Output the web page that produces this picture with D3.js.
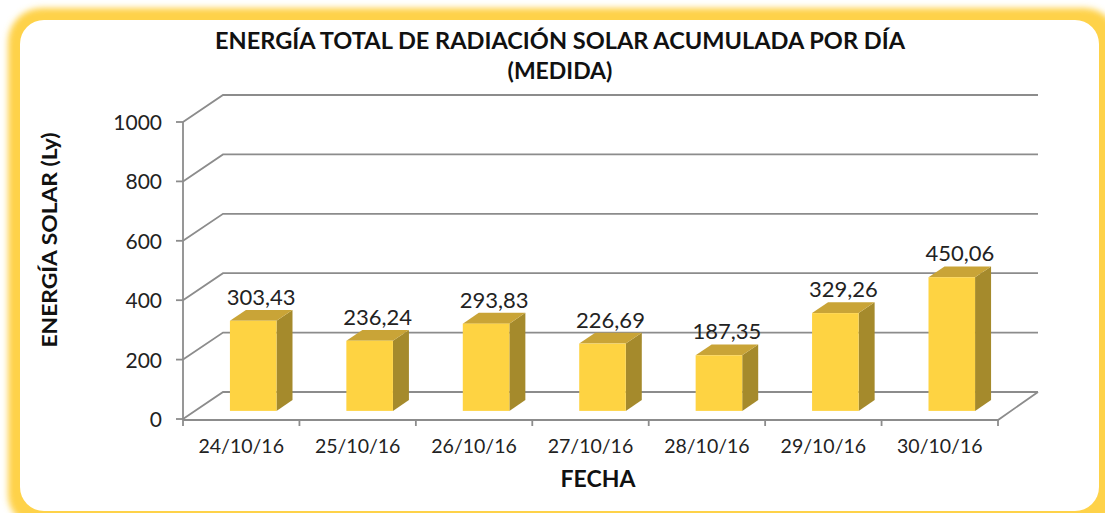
<!DOCTYPE html>
<html lang="es">
<head>
<meta charset="UTF-8">
<title>Energía solar</title>
<script src="https://cdnjs.cloudflare.com/ajax/libs/d3/7.8.5/d3.min.js"></script>
<style>
  * { margin: 0; padding: 0; }
  html, body { background: #fff; }
  svg { display: block; font-family: Lato, "Open Sans", sans-serif; }
</style>
</head>
<body>
<div id="chart"></div>
<script>
// datos
const fechas = ['24/10/16', '25/10/16', '26/10/16', '27/10/16', '28/10/16', '29/10/16', '30/10/16']
const energia = [303.43, 236.24, 293.83, 226.69, 187.35, 329.26, 450.06]
const yTicks = [0, 200, 400, 600, 800, 1000]

const W = 1105, H = 513
const svg = d3.select('#chart').append('svg').attr('width', W).attr('height', H)

// marco amarillo con sombra difusa
const defs = svg.append('defs')
defs.append('filter').attr('id', 'blur').attr('x', '-5%').attr('y', '-5%').attr('width', '110%').attr('height', '110%')
  .append('feGaussianBlur').attr('stdDeviation', 3)
svg.append('rect').attr('x', 8).attr('y', 8).attr('width', 1110).attr('height', 520)
  .attr('rx', 34).attr('fill', '#fed24a').attr('filter', 'url(#blur)')
svg.append('rect').attr('x', 20).attr('y', 20).attr('width', 1079).attr('height', 491)
  .attr('rx', 24).attr('fill', '#fff')

// escalas
const x = d3.scaleBand().domain(fechas).range([183, 998])
const y = d3.scaleLinear().domain([0, 1000]).range([419, 122])
const DX = 40, DY = -27          // profundidad de la pared
const f0 = 0.3, fd = 0.4         // posicion/profundidad de la barra
const bw = x.bandwidth() * 0.4

const grid = svg.append('g').attr('stroke', '#8c8c8c').attr('stroke-width', 1.8).attr('fill', 'none')
yTicks.forEach(v => {
  grid.append('path').attr('d', `M183,${y(v)}L${183 + DX},${y(v) + DY}H${998 + DX}`)
})
// suelo
grid.append('path').attr('d', `M183,${y(0) + 1}H998L${998 + DX},${y(0) + DY}`)
// eje vertical y ticks
grid.append('path').attr('d', `M183,${y(1000)}V${y(0) + 1}`)
yTicks.forEach(v => grid.append('path').attr('d', `M176,${y(v)}H183`))
d3.range(fechas.length + 1).forEach(i => {
  const xx = 183 + i * x.step()
  grid.append('path').attr('d', `M${xx},${y(0) + 1}v6`)
})

// etiquetas eje Y
svg.append('g').selectAll('text').data(yTicks).join('text')
  .attr('x', 162).attr('y', d => y(d) + 8).attr('text-anchor', 'end')
  .attr('font-size', 21).attr('fill', '#222').text(d => d)

// barras 3D
const bars = svg.append('g').selectAll('g').data(fechas).join('g')
bars.each(function (d, i) {
  const g = d3.select(this)
  const x0 = x(d) + x.bandwidth() / 2 - bw / 2 + f0 * DX
  const x1 = x0 + bw
  const yb = y(0) + f0 * DY
  const yt = y(energia[i]) + f0 * DY
  const ox = fd * DX, oy = fd * DY
  g.append('path').attr('fill', '#a58a2c')
    .attr('d', `M${x1},${yb}L${x1 + ox},${yb + oy}V${yt + oy}L${x1},${yt}Z`)
  g.append('path').attr('fill', '#c9a437')
    .attr('d', `M${x0},${yt}L${x0 + ox},${yt + oy}H${x1 + ox}L${x1},${yt}Z`)
  g.append('rect').attr('x', x0).attr('y', yt).attr('width', bw).attr('height', yb - yt).attr('fill', '#fed342')
  g.append('text').attr('x', (x0 + x1) / 2 + ox / 2).attr('y', yt + oy - 5)
    .attr('text-anchor', 'middle').attr('font-size', 22).attr('fill', '#222')
    .text(energia[i].toFixed(2).replace('.', ','))
})

// etiquetas eje X
svg.append('g').selectAll('text').data(fechas).join('text')
  .attr('x', d => x(d) + x.bandwidth() / 2).attr('y', 453).attr('text-anchor', 'middle')
  .attr('font-size', 19.5).attr('fill', '#222').text(d => d)

// titulos
svg.append('text').attr('x', 560).attr('y', 49).attr('text-anchor', 'middle')
  .attr('font-size', 22).attr('font-weight', 'bold').attr('fill', '#111')
  .attr('textLength', 690).attr('lengthAdjust', 'spacingAndGlyphs')
  .text('ENERGÍA TOTAL DE RADIACIÓN SOLAR ACUMULADA POR DÍA')
svg.append('text').attr('x', 560).attr('y', 79).attr('text-anchor', 'middle')
  .attr('font-size', 23).attr('font-weight', 'bold').attr('fill', '#111').text('(MEDIDA)')
svg.append('text').attr('x', 598).attr('y', 487).attr('text-anchor', 'middle')
  .attr('font-size', 23).attr('font-weight', 'bold').attr('fill', '#111').text('FECHA')
svg.append('text').attr('transform', 'translate(57,240) rotate(-90)').attr('text-anchor', 'middle')
  .attr('font-size', 21).attr('font-weight', 'bold').attr('fill', '#111')
  .attr('textLength', 215).attr('lengthAdjust', 'spacingAndGlyphs')
  .text('ENERGÍA SOLAR (Ly)')
</script>
</body>
</html>
